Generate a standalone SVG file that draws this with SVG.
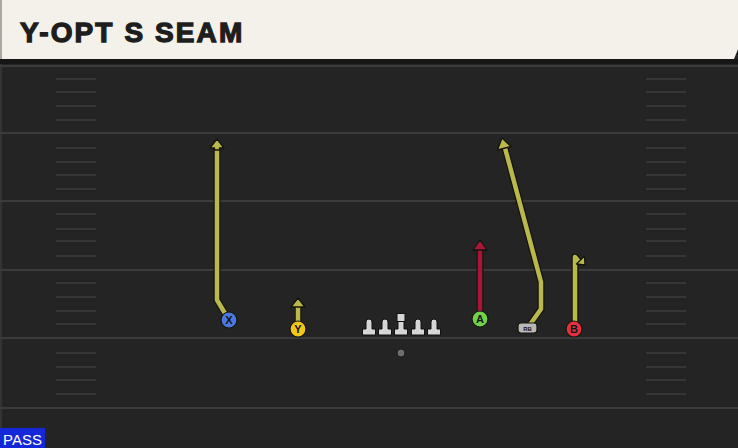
<svg xmlns="http://www.w3.org/2000/svg" width="738" height="448" viewBox="0 0 738 448">
  <style>
    .fl{stroke:#3b3b3b;stroke-width:2}
    .hs{stroke:#3c3c3c;stroke-width:1.6}
    .out{fill:none;stroke:#15150c;stroke-width:7;stroke-linejoin:round;stroke-linecap:round}
    .yel{fill:none;stroke:#b9b84c;stroke-width:4.5;stroke-linejoin:round}
    .red{fill:none;stroke:#a8173a;stroke-width:4.5;stroke-linejoin:round}
    .hy{fill:#b9b84c;stroke:#15150c;stroke-width:1.3;stroke-linejoin:round}
    .hr{fill:#a8173a;stroke:#15150c;stroke-width:1.3;stroke-linejoin:round}
    .pl{stroke:#15150c;stroke-width:1.2}
    .lbl{font-family:"Liberation Sans",Arial,sans-serif;font-weight:bold;font-size:11px;fill:#151515;text-anchor:middle}
    .ol{fill:#d6d6d6;stroke:#111;stroke-width:1}
  </style>
  <rect x="0" y="0" width="738" height="448" fill="#242424"/>
  <rect x="0" y="0" width="2" height="448" fill="#333333"/>
  <g id="field">
    <line class="fl" x1="0" y1="66" x2="738" y2="66"/>
    <line class="fl" x1="0" y1="133" x2="738" y2="133"/>
    <line class="fl" x1="0" y1="201" x2="738" y2="201"/>
    <line class="fl" x1="0" y1="270" x2="738" y2="270"/>
    <line class="fl" x1="0" y1="338" x2="738" y2="338"/>
    <line class="fl" x1="0" y1="408" x2="738" y2="408"/>
    <g id="hashes">
      <path class="hs" d="M56 79H96M56 92H96M56 106H96M56 120H96M56 148H96M56 162H96M56 175H96M56 189H96M56 214H96M56 229H96M56 241H96M56 256H96M56 283H96M56 297H96M56 311H96M56 324H96M56 353H96M56 367H96M56 380H96M56 394H96"/>
      <path class="hs" d="M646 79H686M646 92H686M646 106H686M646 120H686M646 148H686M646 162H686M646 175H686M646 189H686M646 214H686M646 229H686M646 241H686M646 256H686M646 283H686M646 297H686M646 311H686M646 324H686M646 353H686M646 367H686M646 380H686M646 394H686"/>
    </g>
  </g>
  <g id="header">
    <rect x="0" y="59" width="738" height="5" fill="#161616"/>
    <polygon points="0,0 738,0 738,49 734,59 0,59" fill="#f4f1ea"/>
    <rect x="0" y="0" width="2" height="59" fill="#a9a9a4"/>
    <text x="20" y="42" font-family="'Liberation Sans',Arial,sans-serif" font-weight="bold" font-size="28" letter-spacing="2.1" fill="#1e1e1e" stroke="#1e1e1e" stroke-width="1.3">Y-OPT S SEAM</text>
  </g>
  <g id="routes">
    <polyline class="out" points="229,320 217,300 217,148"/>
    <polyline class="yel" points="229,320 217,300 217,148"/>
    <polygon class="hy" points="217,139 224,148 219.5,148 219.5,150 214.5,150 214.5,148 210,148"/>

    <polyline class="out" points="298,329 298,307"/>
    <polyline class="yel" points="298,329 298,307"/>
    <polygon class="hy" points="298,298 305,307 291,307"/>

    <polyline class="out" points="480,319 480,250"/>
    <polyline class="red" points="480,319 480,250"/>
    <polygon class="hr" points="480,240 487,250 473,250"/>

    <polyline class="out" points="529,326 541,309 541,282 505,148"/>
    <polyline class="yel" points="529,326 541,309 541,282 505,148"/>
    <polygon class="hy" points="502,138 511,146.5 497.5,150"/>

    <polyline class="out" points="575,328 575,257 579,262"/>
    <polyline class="yel" points="575,328 575,257 579,262"/>
    <polygon class="hy" points="585,265 584.5,256 576.5,264"/>
  </g>
  <g id="oline">
    <g id="lt"><path class="ol" d="M366,329 v-7 a3,3 0 0 1 6,0 v7 h3.5 v6 h-13 v-6z"/></g>
    <g id="lg"><path class="ol" d="M382,329 v-7 a3,3 0 0 1 6,0 v7 h3.5 v6 h-13 v-6z"/></g>
    <g id="c"><rect class="ol" x="397" y="313.5" width="8" height="8" fill="#f2f2f2"/><path class="ol" d="M398,321.5 h6 v7.5 h3.5 v6 h-13 v-6 h3.5z"/></g>
    <g id="rg"><path class="ol" d="M415,329 v-7 a3,3 0 0 1 6,0 v7 h3.5 v6 h-13 v-6z"/></g>
    <g id="rt"><path class="ol" d="M431,329 v-7 a3,3 0 0 1 6,0 v7 h3.5 v6 h-13 v-6z"/></g>
  </g>
  <g id="ball"><circle cx="401" cy="353" r="4" fill="#6e6e6e" stroke="#1a1a1a" stroke-width="1"/></g>
  <g id="X"><circle class="pl" cx="229" cy="320" r="8" fill="#4a78de"/><text class="lbl" x="229" y="324">X</text></g>
  <g id="Y"><circle class="pl" cx="298" cy="329" r="8" fill="#f1c71c"/><text class="lbl" x="298" y="333">Y</text></g>
  <g id="A"><circle class="pl" cx="480" cy="319" r="8" fill="#6fd24a"/><text class="lbl" x="480" y="323">A</text></g>
  <g id="RB"><rect class="pl" x="518" y="323" width="19" height="10" rx="3" fill="#b9b9b9"/><text class="lbl" x="527.5" y="330.5" style="font-size:6px">RB</text></g>
  <g id="B"><circle class="pl" cx="574" cy="329" r="8" fill="#e3303e"/><text class="lbl" x="574" y="333">B</text></g>
  <g id="pass">
    <rect x="0" y="428" width="45" height="20" fill="#1428d8"/>
    <text x="3" y="445" font-family="'Liberation Sans',Arial,sans-serif" font-size="15" fill="#ffffff">PASS</text>
  </g>
</svg>
